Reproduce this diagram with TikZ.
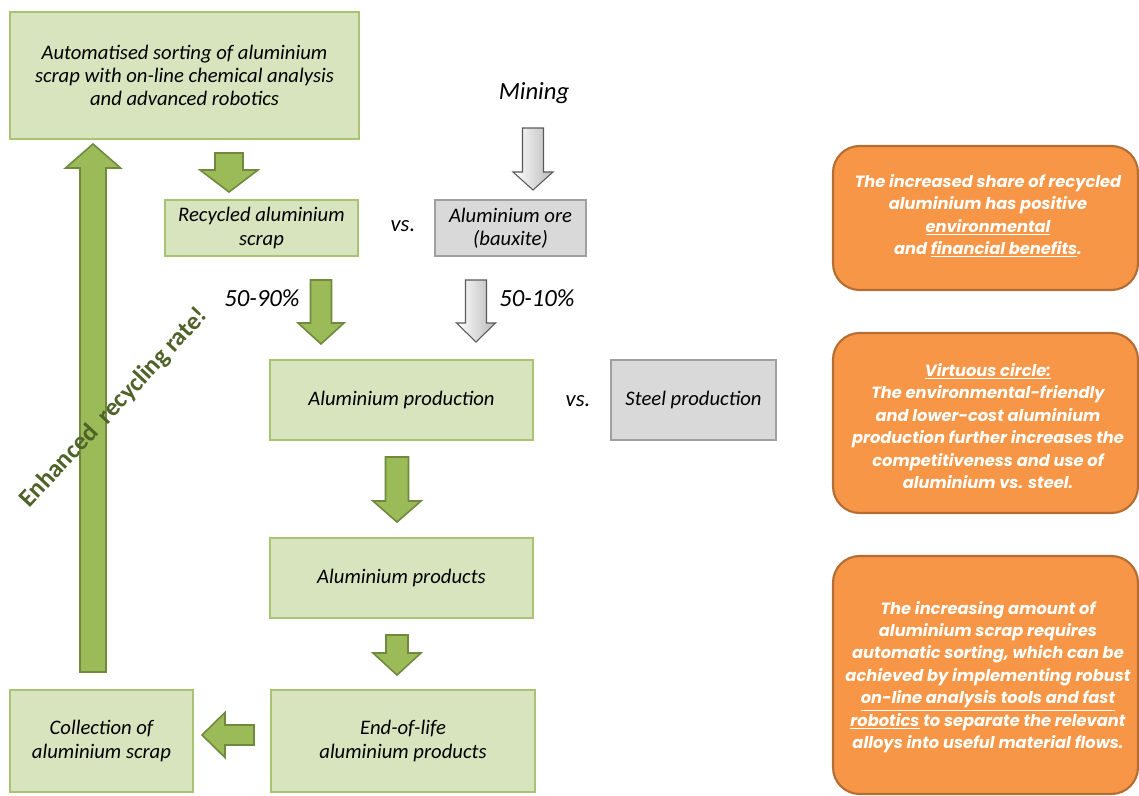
\documentclass[tikz,border=0pt]{standalone}
\usepackage{fontspec}
\setmainfont{Carlito}
\newfontfamily\gothic{Poppins}
\usetikzlibrary{positioning}
\definecolor{gfill}{HTML}{D7E4BD}
\definecolor{gline}{HTML}{A8C472}
\definecolor{garrow}{HTML}{9BBB59}
\definecolor{garrowline}{HTML}{71893F}
\definecolor{grayfill}{HTML}{D9D9D9}
\definecolor{grayline}{HTML}{A0A0A0}
\definecolor{ofill}{HTML}{F79646}
\definecolor{oline}{HTML}{B46E33}
\definecolor{dgreen}{HTML}{4F6228}
\tikzset{
  gbox/.style={draw=gline, fill=gfill, line width=0.9pt, align=center, inner sep=0pt,
    font=\fontsize{15.5}{17.3}\selectfont\itshape},
  graybox/.style={draw=grayline, fill=grayfill, line width=0.9pt, align=center, inner sep=0pt,
    font=\fontsize{15.5}{17.3}\selectfont\itshape},
  obox/.style={draw=oline, fill=ofill, line width=1.6pt, rounded corners=20pt},
  otext/.style={text=white, align=center, font=\gothic\bfseries\itshape\fontsize{12.2}{16.8}\selectfont},
  lbl/.style={font=\fontsize{18.5}{20}\selectfont\itshape, inner sep=0pt},
  vslbl/.style={font=\fontsize{17}{20}\selectfont\itshape, inner sep=0pt},
  garr/.style={fill=garrow, draw=garrowline, line width=1.2pt, line join=miter},
  grarr/.style={left color=white, right color=gray!55, draw=gray!70!black, line width=0.8pt, line join=miter},
}
\newcommand\vblk[7]{\draw[#1] (#2-#6,#3) -- (#2+#6,#3) -- (#2+#6,#4) -- (#2+#7,#4) -- (#2,#5) -- (#2-#7,#4) -- (#2-#6,#4) -- cycle;}
\begin{document}
\begin{tikzpicture}[x=0.75pt, y=-0.75pt]
\useasboundingbox (0,0) rectangle (1139,796);
% green boxes
\node[gbox, minimum width=349*0.75pt, minimum height=127*0.75pt] (sort) at (184.5,75.5)
  {Automatised sorting of aluminium\\scrap with on-line chemical analysis\\and advanced robotics};
\node[gbox, minimum width=193*0.75pt, minimum height=56*0.75pt] (rec) at (261.5,228)
  {Recycled aluminium\\scrap};
\node[graybox, minimum width=151*0.75pt, minimum height=56*0.75pt] (ore) at (510.5,228)
  {Aluminium ore\\(bauxite)};
\node[gbox, minimum width=263*0.75pt, minimum height=80*0.75pt] (prod) at (401.5,400)
  {Aluminium production};
\node[graybox, minimum width=165*0.75pt, minimum height=80*0.75pt] (steel) at (693.5,400)
  {Steel production};
\node[gbox, minimum width=263*0.75pt, minimum height=80*0.75pt] (prods) at (401.5,578)
  {Aluminium products};
\node[gbox, minimum width=264*0.75pt, minimum height=102*0.75pt] (eol) at (403,741)
  {End-of-life\\aluminium products};
\node[gbox, minimum width=183*0.75pt, minimum height=102*0.75pt] (coll) at (101.5,741)
  {Collection of\\aluminium scrap};
% labels
\node[lbl] (mining) at (534,93) {Mining};
\node[vslbl] (vs1) at (403,226) {vs.};
\node[lbl] (p1) at (262,298) {50-90\%};
\node[lbl] (p2) at (537,298) {50-10\%};
\node[vslbl] (vs2) at (578,401) {vs.};
% block arrows
\vblk{garr}{229}{153}{170}{192}{14}{29}
\vblk{grarr}{533}{128}{172}{190}{10.5}{20}
\vblk{grarr}{476}{280}{323}{342}{10.5}{19.5}
\vblk{garr}{321}{280}{323}{344}{10.5}{23}
\vblk{garr}{397}{457}{501}{522}{11.5}{24}
\vblk{garr}{397}{635}{653}{675}{11}{24}
\draw[garr] (254,725) -- (254,745) -- (225,745) -- (225,757.5) -- (202,735) -- (225,712.5) -- (225,725) -- cycle;
\draw[garr] (80,672) -- (106,672) -- (106,168) -- (120.5,168) -- (93,144) -- (65.5,168) -- (80,168) -- cycle;
\node[rotate=47, text=dgreen, font=\fontsize{19}{21}\selectfont\bfseries, inner sep=0pt] (enh) at (114,408)
  {Enhanced\ \ recycling rate!};
% orange boxes
\draw[obox] (833,146) rectangle (1138,290);
\node[otext] (o1) at (988,216) {The increased share of recycled\\aluminium has positive\\\underline{environmental}\\and \underline{financial benefits}.};
\draw[obox] (833,333) rectangle (1138,513);
\node[otext] (o2) at (988,426) {\underline{Virtuous circle:}\\The environmental-friendly\\and lower-cost aluminium\\production further increases the\\competitiveness and use of\\aluminium vs. steel.};
\draw[obox] (833,556) rectangle (1138,794);
\node[otext] (o3) at (988,677) {The increasing amount of\\aluminium scrap requires\\automatic sorting, which can be\\achieved by implementing robust\\\underline{on-line analysis tools and fast}\\\underline{robotics} to separate the relevant\\alloys into useful material flows.};
\end{tikzpicture}
\end{document}
